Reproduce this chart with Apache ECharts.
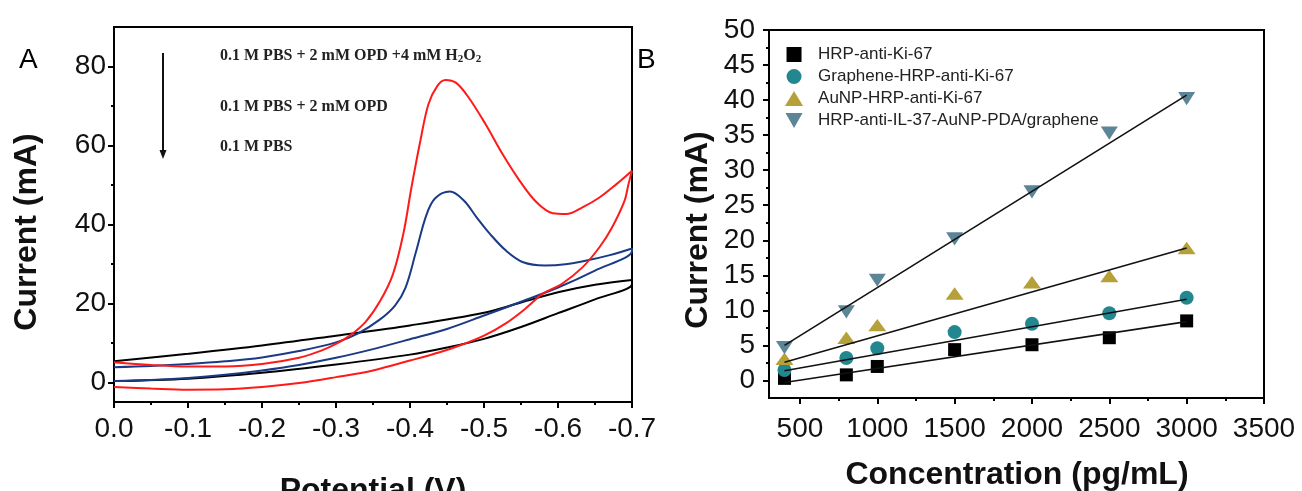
<!DOCTYPE html>
<html>
<head>
<meta charset="utf-8">
<script src="https://cdn.jsdelivr.net/npm/echarts@6/dist/echarts.min.js"></script>
<style>
html,body{margin:0;padding:0;background:#fff;}
#c{width:1302px;height:491px;}
</style>
</head>
<body>
<div id="c"></div>
<script>
// ---------- Panel A: cyclic voltammograms ([potential V, current mA]) ----------
const pbsUpper = [[0,5.3],[-0.1,7.2],[-0.2,9.3],[-0.3,11.8],[-0.4,14.4],[-0.5,17.6],[-0.55,20.2],[-0.6,22.8],[-0.65,24.7],[-0.7,25.9]];
const pbsLower = [[-0.7,24.9],[-0.65,21],[-0.6,17.5],[-0.55,14],[-0.5,11],[-0.45,8.8],[-0.4,7],[-0.3,4.5],[-0.2,2.4],[-0.1,0.9],[0,0.3]];
const opdUpper = [[0,3.8],[-0.05,4.1],[-0.1,4.6],[-0.15,5.3],[-0.2,6.3],[-0.25,7.9],[-0.3,10.1],[-0.33,12.4],[-0.36,16],[-0.38,19.5],[-0.394,24],[-0.408,33],[-0.422,42.3],[-0.434,46.6],[-0.454,48.3],[-0.473,46],[-0.49,41.8],[-0.508,37.6],[-0.53,33.3],[-0.553,30.4],[-0.582,29.6],[-0.61,29.9],[-0.64,30.9],[-0.67,32.2],[-0.7,33.9]];
const opdLower = [[-0.7,33.3],[-0.65,28.3],[-0.6,24],[-0.55,20.4],[-0.5,16.9],[-0.45,13.5],[-0.4,10.9],[-0.35,8.4],[-0.3,6.2],[-0.25,4.4],[-0.2,3.0],[-0.15,1.9],[-0.1,1.1],[-0.05,0.6],[0,0.3]];
const h2o2Upper = [[0,5.1],[-0.05,4.4],[-0.1,4.0],[-0.15,4.0],[-0.2,4.6],[-0.25,6.2],[-0.28,8.0],[-0.3,9.7],[-0.32,12.0],[-0.34,15.3],[-0.36,20.7],[-0.377,27.4],[-0.391,37.6],[-0.402,49.4],[-0.414,61.2],[-0.425,70.5],[-0.437,75.1],[-0.448,76.6],[-0.462,75.9],[-0.479,72.2],[-0.502,65.4],[-0.525,57.8],[-0.548,51.1],[-0.571,45.6],[-0.593,42.8],[-0.611,42.6],[-0.633,44.3],[-0.656,46.8],[-0.679,50.2],[-0.7,53.6]];
const h2o2Lower = [[-0.695,50],[-0.69,46],[-0.673,39.2],[-0.656,34.2],[-0.633,29.1],[-0.605,24.9],[-0.58,22.5],[-0.555,18.5],[-0.53,15],[-0.5,11.8],[-0.47,9.5],[-0.44,7.6],[-0.4,5.5],[-0.35,3.0],[-0.3,1.3],[-0.25,-0.2],[-0.2,-1.2],[-0.15,-1.8],[-0.1,-1.9],[-0.05,-1.6],[0,-1.2]];

const potentialTicks = [0,-0.1,-0.2,-0.3,-0.4,-0.5,-0.6,-0.7];
const potentialMinor = [-0.05,-0.15,-0.25,-0.35,-0.45,-0.55,-0.65];
const currentTicksA = [0,20,40,60,80];
const currentMinorA = [10,30,50,70];

// ---------- Panel B: calibration ----------
const concentrations = [400,800,1000,1500,2000,2500,3000];
const seriesNames = ['HRP-anti-Ki-67','Graphene-HRP-anti-Ki-67','AuNP-HRP-anti-Ki-67','HRP-anti-IL-37-AuNP-PDA/graphene'];
const hrpKi67 = [0.3,0.8,2.0,4.4,5.1,6.1,8.5];
const grapheneKi67 = [1.5,3.2,4.6,6.9,8.1,9.6,11.8];
const aunpKi67 = [3.1,6.1,7.9,12.4,14.0,14.9,18.9];
const il37Composite = [4.7,9.8,14.3,20.2,26.9,35.3,40.2];
const fitX = [400,3000];
const fitStart = [-0.3,1.4,2.6,5.0];
const fitEnd = [8.4,11.6,18.9,40.7];

const concTicks = [500,1000,1500,2000,2500,3000,3500];
const concMinor = [750,1250,1750,2250,2750,3250];
const currentTicksB = [0,5,10,15,20,25,30,35,40,45,50];
const currentMinorB = [2.5,7.5,12.5,17.5,22.5,27.5,32.5,37.5,42.5,47.5];

// ---------- styling ----------
const FONT = '"Liberation Sans", Arial, sans-serif';
const SERIF = '"Liberation Serif", "Times New Roman", serif';
const markerColors = ['#000000','#23878f','#b5a03a','#5d8598'];
const markerSymbols = [
  'path://M0,0 L10,0 L10,10 L0,10 Z',
  'path://M5,0 A5,5 0 1 1 4.999,0 Z',
  'path://M5,0 L10,8.3 L0,8.3 Z',
  'path://M0,0 L10,0 L5,8.8 Z'
];
const markerSizes = [13,14,[18,15],[17,15]];

function mainAxis(gridIndex, min, max, ticks, fmt, margin, extra) {
  return Object.assign({
    type:'value', gridIndex, min, max,
    axisLine:{show:true, onZero:false, lineStyle:{color:'#000', width:2}},
    axisTick:{show:true, inside:false, length:6, customValues:ticks, lineStyle:{color:'#000', width:2}},
    axisLabel:{show:true, customValues:ticks, formatter:fmt, fontSize:28, color:'#111', fontFamily:FONT, margin:margin},
    splitLine:{show:false}
  }, extra || {});
}
function minorAxis(gridIndex, min, max, ticks, extra) {
  return Object.assign({
    type:'value', gridIndex, min, max,
    axisLine:{show:false, onZero:false},
    axisTick:{show:true, inside:false, length:3, customValues:ticks, lineStyle:{color:'#000', width:2}},
    axisLabel:{show:false},
    splitLine:{show:false}
  }, extra || {});
}
const titleStyle = {fontSize:32, fontWeight:'bold', fill:'#111', fontFamily:FONT, align:'center', verticalAlign:'middle'};

const option = {
  animation:false,
  backgroundColor:'#ffffff',
  grid:[
    {left:114, top:27, width:518, height:375, show:true, borderColor:'#000', borderWidth:2, backgroundColor:'transparent', outerBoundsMode:'none'},
    {left:769, top:30, width:495, height:368, show:true, borderColor:'#000', borderWidth:2, backgroundColor:'transparent', outerBoundsMode:'none'}
  ],
  xAxis:[
    mainAxis(0, -0.7, 0, potentialTicks, v => (v === 0 ? '0.0' : v.toFixed(1)), 13, {inverse:true, position:'bottom'}),
    minorAxis(0, -0.7, 0, potentialMinor, {inverse:true, position:'bottom'}),
    mainAxis(1, 300, 3500, concTicks, v => String(v), 17, {position:'bottom'}),
    minorAxis(1, 300, 3500, concMinor, {position:'bottom'})
  ],
  yAxis:[
    mainAxis(0, -5, 90, currentTicksA, v => String(v), 8, {position:'left'}),
    minorAxis(0, -5, 90, currentMinorA, {position:'left'}),
    mainAxis(1, -2.5, 50, currentTicksB, v => String(v), 14, {position:'left'}),
    minorAxis(1, -2.5, 50, currentMinorB, {position:'left'})
  ],
  legend:{
    data:seriesNames, orient:'vertical', left:780, top:41, itemWidth:38, itemHeight:15, itemGap:5,
    selectedMode:false, textStyle:{fontSize:17, color:'#222', fontFamily:FONT}
  },
  graphic:[
    {type:'text', left:19, top:46, style:{text:'A', fontSize:28, fontFamily:FONT, fill:'#000'}},
    {type:'text', left:637, top:46, style:{text:'B', fontSize:28, fontFamily:FONT, fill:'#000'}},
    {type:'text', x:27.5, y:232, rotation:Math.PI/2, style:Object.assign({text:'Current (mA)'}, titleStyle)},
    {type:'text', x:698, y:230, rotation:Math.PI/2, style:Object.assign({text:'Current (mA)'}, titleStyle)},
    {type:'text', x:373, y:491, style:Object.assign({text:'Potential (V)'}, titleStyle)},
    {type:'text', x:1017, y:475, style:Object.assign({text:'Concentration (pg/mL)'}, titleStyle)},
    {type:'line', shape:{x1:163, y1:53, x2:163, y2:151}, style:{stroke:'#111', lineWidth:2}},
    {type:'polygon', shape:{points:[[159.5,150],[166.5,150],[163,159]]}, style:{fill:'#111'}},
    {type:'text', left:220, top:46, style:{
      text:'{n|0.1 M PBS + 2 mM OPD +4 mM H}{s|2}{n|O}{s|2}',
      rich:{
        n:{fontSize:16, fontWeight:'bold', fontFamily:SERIF, fill:'#222', lineHeight:18},
        s:{fontSize:11, fontWeight:'bold', fontFamily:SERIF, fill:'#222', lineHeight:18, padding:[8,0,0,0]}
      }}},
    {type:'text', left:220, top:99, style:{text:'0.1 M PBS + 2 mM OPD', fontSize:16, fontWeight:'bold', fontFamily:SERIF, fill:'#222'}},
    {type:'text', left:220, top:139, style:{text:'0.1 M PBS', fontSize:16, fontWeight:'bold', fontFamily:SERIF, fill:'#222'}}
  ],
  series:[]
};

// Panel A curves
const cvSets = [
  {data:pbsUpper.concat(pbsLower), color:'#000000'},
  {data:opdUpper.concat(opdLower), color:'#1b3a86'},
  {data:h2o2Upper.concat(h2o2Lower), color:'#ff1a1a'}
];
cvSets.forEach(s => option.series.push({
  type:'line', xAxisIndex:0, yAxisIndex:0, data:s.data, smooth:0.35, symbol:'none',
  lineStyle:{color:s.color, width:2}, z:3
}));

// Panel B markers
const bValues = [hrpKi67, grapheneKi67, aunpKi67, il37Composite];
bValues.forEach((vals, i) => option.series.push({
  type:'scatter', name:seriesNames[i], xAxisIndex:2, yAxisIndex:2,
  data:concentrations.map((c, k) => [c, vals[k]]),
  symbol:markerSymbols[i], symbolSize:markerSizes[i], symbolKeepAspect:true,
  itemStyle:{color:markerColors[i], opacity:1}, z:3
}));
// Panel B fit lines
fitStart.forEach((y0, i) => option.series.push({
  type:'line', xAxisIndex:2, yAxisIndex:2,
  data:[[fitX[0], y0],[fitX[1], fitEnd[i]]], symbol:'none',
  lineStyle:{color:'#111', width:1.6}, z:4
}));

const chart = echarts.init(document.getElementById('c'), null, {renderer:'canvas'});
chart.setOption(option);
</script>
</body>
</html>
